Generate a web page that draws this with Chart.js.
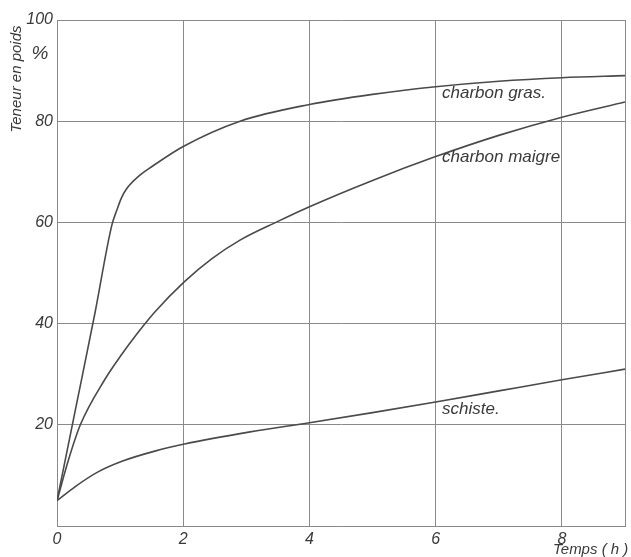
<!DOCTYPE html>
<html>
<head>
<meta charset="utf-8">
<script src="https://cdn.jsdelivr.net/npm/chart.js@4.4.1/dist/chart.umd.min.js"></script>
<style>
  html, body { margin: 0; padding: 0; background: #fff; }
  #wrap { position: relative; width: 631px; height: 557px; }
</style>
</head>
<body>
<div id="wrap"><canvas id="chart" width="631" height="557"></canvas></div>
<script>
// values (time in hours, content in weight %)
const grasX   = [0, 0.3, 0.6, 0.87, 0.95, 1.02, 1.1, 1.3, 1.5, 2, 2.9, 4, 5, 6, 7, 8, 9];
const grasY   = [5, 23.5, 42, 59.5, 62.5, 64.8, 66.6, 69.2, 71, 75, 80, 83.3, 85.3, 86.8, 87.9, 88.6, 89];
const maigreX = [0, 0.18, 0.37, 0.76, 1.03, 1.25, 1.55, 2.02, 2.45, 2.9, 3.5, 4, 5, 6, 7, 8, 9];
const maigreY = [5, 13, 20, 29, 34, 37.7, 42.3, 48.3, 52.8, 56.5, 60.2, 63.1, 68.3, 73, 77.2, 80.8, 83.8];
const schisteX = [0, 0.29, 0.65, 1.03, 1.55, 2.02, 3.06, 4, 5, 6, 7, 8, 9];
const schisteY = [5, 7.8, 10.7, 12.8, 14.8, 16.2, 18.6, 20.4, 22.4, 24.5, 26.7, 28.9, 31];
const xTicks = [0, 2, 4, 6, 8];
const yTicks = [20, 40, 60, 80, 100];

const ink = '#3a3a3a';
const gridCol = '#8a8a8a';
const tickFont = { family: 'Liberation Sans', size: 16, style: 'italic' };

function pts(xs, ys) { return xs.map((x, i) => ({ x: x, y: ys[i] })); }

function serie(label, xs, ys) {
  return {
    label: label,
    data: pts(xs, ys),
    borderColor: '#4a4a4a',
    borderWidth: 1.6,
    pointRadius: 0,
    fill: false,
    cubicInterpolationMode: 'monotone'
  };
}

// curve names and axis titles, written on the canvas
const textPlugin = {
  id: 'texts',
  afterDraw(chart) {
    const ctx = chart.ctx;
    const xs = chart.scales.x, ys = chart.scales.y;
    ctx.save();
    ctx.fillStyle = ink;
    ctx.textBaseline = 'middle';
    ctx.textAlign = 'left';
    ctx.font = 'italic 17px "Liberation Sans"';
    ctx.fillText('charbon gras.', xs.getPixelForValue(6.1), ys.getPixelForValue(85.5));
    ctx.fillText('charbon maigre', xs.getPixelForValue(6.1), ys.getPixelForValue(72.8));
    ctx.fillText('schiste.', xs.getPixelForValue(6.1), ys.getPixelForValue(23.1));

    ctx.font = 'italic 15px "Liberation Sans"';
    ctx.fillText('Temps ( h )', 553, 550);

    ctx.font = 'italic 19px "Liberation Sans"';
    ctx.textAlign = 'center';
    ctx.fillText('%', 40, 54);

    ctx.translate(17, 79);
    ctx.rotate(-Math.PI / 2);
    ctx.font = 'italic 15px "Liberation Sans"';
    ctx.fillText('Teneur en poids', 0, 0);
    ctx.restore();
  }
};

new Chart(document.getElementById('chart'), {
  type: 'line',
  data: {
    datasets: [
      serie('charbon gras', grasX, grasY),
      serie('charbon maigre', maigreX, maigreY),
      serie('schiste', schisteX, schisteY)
    ]
  },
  options: {
    responsive: false,
    animation: false,
    layout: { padding: { top: 20, right: 6, left: 0, bottom: 0 } },
    plugins: { legend: { display: false }, tooltip: { enabled: false } },
    scales: {
      x: {
        type: 'linear',
        min: 0,
        max: 9,
        afterBuildTicks(scale) {
          scale.ticks = xTicks.concat([9]).map(v => ({ value: v }));
        },
        afterFit(scale) { scale.height = 31; },
        grid: { color: gridCol, lineWidth: 1, drawTicks: false },
        border: { color: gridCol, width: 1 },
        ticks: {
          padding: 4,
          color: ink,
          font: tickFont,
          maxRotation: 0,
          callback: v => (xTicks.includes(v) ? String(v) : '')
        }
      },
      y: {
        type: 'linear',
        min: 0,
        max: 100,
        afterBuildTicks(scale) {
          scale.ticks = [0].concat(yTicks).map(v => ({ value: v }));
        },
        afterFit(scale) { scale.width = 57; },
        grid: { color: gridCol, lineWidth: 1, drawTicks: false },
        border: { color: gridCol, width: 1 },
        ticks: {
          padding: 4,
          color: ink,
          font: tickFont,
          callback: v => (yTicks.includes(v) ? String(v) : '')
        }
      }
    }
  },
  plugins: [textPlugin]
});
</script>
</body>
</html>
